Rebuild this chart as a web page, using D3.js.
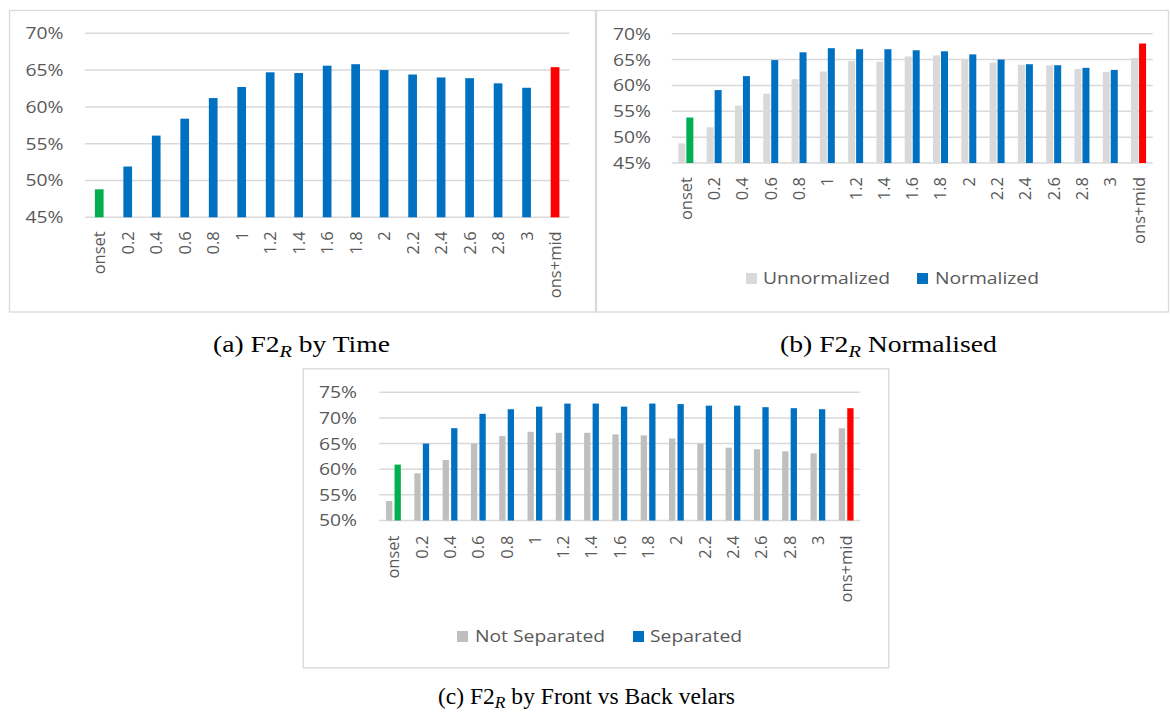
<!DOCTYPE html>
<html>
<head>
<meta charset="utf-8">
<script src="https://cdn.jsdelivr.net/npm/d3@7"></script>
<style>
  html, body { margin: 0; padding: 0; background: #ffffff; }
  svg { display: block; }
</style>
</head>
<body>
<svg id="chart" width="1170" height="717"></svg>
<script>
// ---------- DATA ----------
const categories = ["onset","0.2","0.4","0.6","0.8","1","1.2","1.4","1.6","1.8","2","2.2","2.4","2.6","2.8","3","ons+mid"];

// (a) F2R by Time
const timeValues = [48.8, 51.9, 56.1, 58.4, 61.2, 62.7, 64.7, 64.6, 65.6, 65.8, 65.0, 64.4, 64.0, 63.9, 63.2, 62.6, 65.4];

// (b) F2R Normalised
const unnormalizedValues = [48.8, 51.9, 56.1, 58.4, 61.2, 62.7, 64.7, 64.6, 65.6, 65.8, 65.0, 64.4, 64.0, 63.9, 63.2, 62.6, 65.3];
const normalizedValues   = [53.8, 59.1, 61.8, 64.9, 66.4, 67.2, 67.0, 67.0, 66.8, 66.6, 66.0, 65.0, 64.1, 63.9, 63.4, 63.0, 68.1];

// (c) F2R by Front vs Back velars
const notSeparatedValues = [53.8, 59.2, 61.8, 65.0, 66.5, 67.3, 67.1, 67.1, 66.8, 66.6, 66.0, 65.0, 64.2, 63.9, 63.5, 63.1, 68.0];
const separatedValues    = [60.9, 65.0, 68.0, 70.8, 71.7, 72.2, 72.8, 72.8, 72.2, 72.8, 72.7, 72.4, 72.4, 72.1, 71.9, 71.7, 71.9];

const yTicksA = [45, 50, 55, 60, 65, 70];
const yTicksB = [45, 50, 55, 60, 65, 70];
const yTicksC = [50, 55, 60, 65, 70, 75];

const legendB = ["Unnormalized", "Normalized"];
const legendC = ["Not Separated", "Separated"];

const captions = [
  { pre: "(a) F2", sub: "R", post: " by Time" },
  { pre: "(b) F2", sub: "R", post: " Normalised" },
  { pre: "(c) F2", sub: "R", post: " by Front vs Back velars" }
];

// ---------- STYLE ----------
const BLUE = "#0070C0", GREEN = "#00B050", RED = "#FF0000";
const GRAY_B = "#D9D9D9", GRAY_C = "#BFBFBF";
const GRID = "#D9D9D9", BORDER = "#D9D9D9", TEXT = "#595959";
const FONT = "'Open Sans', 'DejaVu Sans', sans-serif";
const FS = 16.5;
const HSTRETCH = 1.17;

const svg = d3.select("#chart");

function stretchText(sel, sx) {
  sel.each(function() {
    const t = d3.select(this);
    const x = +t.attr("x"), y = +t.attr("y");
    t.attr("x", 0).attr("y", 0)
     .attr("transform", `translate(${x},${y}) scale(${sx},1)`);
  });
}

function drawPanel(cfg) {
  const g = svg.append("g");
  // box
  g.append("rect")
    .attr("x", cfg.box[0] + 0.5).attr("y", cfg.box[1] + 0.5)
    .attr("width", cfg.box[2] - cfg.box[0]).attr("height", cfg.box[3] - cfg.box[1])
    .attr("fill", "#fff").attr("stroke", BORDER).attr("stroke-width", 1.3);

  const x = d3.scaleBand().domain(categories).range([cfg.x0, cfg.x1]).paddingInner(0).paddingOuter(0);
  const y = d3.scaleLinear().domain([cfg.ticks[0], cfg.ticks[cfg.ticks.length - 1]]).range([cfg.yBottom, cfg.yTop]);

  // gridlines
  g.append("g").selectAll("line").data(cfg.ticks).join("line")
    .attr("x1", cfg.x0).attr("x2", cfg.x1)
    .attr("y1", d => y(d)).attr("y2", d => y(d))
    .attr("stroke", GRID).attr("stroke-width", 1.5);

  // y labels
  const yl = g.append("g").selectAll("text").data(cfg.ticks).join("text")
    .attr("x", cfg.yLabelX).attr("y", d => y(d))
    .attr("text-anchor", "end").attr("dy", "0.36em")
    .attr("font-family", FONT).attr("font-size", FS).attr("fill", TEXT)
    .text(d => d + "%");
  stretchText(yl, HSTRETCH);

  // bars
  const nS = cfg.series.length;
  const groupW = cfg.barW * nS + cfg.barGap * (nS - 1);
  const xs = d3.scaleBand().domain(d3.range(nS)).range([-groupW / 2, groupW / 2]).paddingInner(nS > 1 ? cfg.barGap / (cfg.barW + cfg.barGap) : 0).paddingOuter(0);
  cfg.series.forEach((s, si) => {
    g.append("g").selectAll("rect").data(s.values).join("rect")
      .attr("x", (d, i) => x(categories[i]) + x.bandwidth() / 2 + xs(si))
      .attr("width", xs.bandwidth())
      .attr("y", d => y(d))
      .attr("height", d => y(cfg.ticks[0]) - y(d))
      .attr("fill", (d, i) => s.colorFn(i));
  });

  // x labels rotated
  g.append("g").selectAll("text").data(categories).join("text")
    .attr("transform", d => `translate(${x(d) + x.bandwidth() / 2},${cfg.yBottom + cfg.xLabelOff}) rotate(-90)`)
    .attr("text-anchor", "end").attr("dy", "0.36em")
    .attr("font-family", FONT).attr("font-size", FS).attr("fill", TEXT)
    .text(d => d);

  // legend
  if (cfg.legend) {
    cfg.legend.items.forEach((it, k) => {
      g.append("rect")
        .attr("x", it.sx).attr("y", cfg.legend.y - 5.5)
        .attr("width", 11).attr("height", 11).attr("fill", it.color);
      const t = g.append("text")
        .attr("x", it.tx).attr("y", cfg.legend.y)
        .attr("dy", "0.36em")
        .attr("font-family", FONT).attr("font-size", FS).attr("fill", TEXT)
        .text(it.label);
      stretchText(t, HSTRETCH);
    });
  }
}

const endColor = (base) => (i) => i === 0 ? GREEN : (i === categories.length - 1 ? RED : base);
const plain = (c) => () => c;

// Panel (a)
drawPanel({
  box: [9, 10, 595, 311.5],
  x0: 85, x1: 569.3, yTop: 33.3, yBottom: 217.3,
  ticks: yTicksA, yLabelX: 63.5, xLabelOff: 14,
  barW: 8.7, barGap: 0,
  series: [{ values: timeValues, colorFn: endColor(BLUE) }]
});

// Panel (b)
drawPanel({
  box: [596, 10, 1168, 311.5],
  x0: 671.7, x1: 1152.7, yTop: 33.7, yBottom: 163,
  ticks: yTicksB, yLabelX: 651, xLabelOff: 14,
  barW: 7, barGap: 1,
  series: [
    { values: unnormalizedValues, colorFn: plain(GRAY_B) },
    { values: normalizedValues, colorFn: endColor(BLUE) }
  ],
  legend: { y: 278.5, items: [
    { label: legendB[0], color: GRAY_B, sx: 746, tx: 763 },
    { label: legendB[1], color: BLUE, sx: 917, tx: 935 }
  ]}
});

// Panel (c)
drawPanel({
  box: [302.7, 368.3, 888.3, 667.3],
  x0: 379.3, x1: 860.3, yTop: 392.3, yBottom: 520.5,
  ticks: yTicksC, yLabelX: 357, xLabelOff: 15,
  barW: 6.3, barGap: 2.2,
  series: [
    { values: notSeparatedValues, colorFn: plain(GRAY_C) },
    { values: separatedValues, colorFn: endColor(BLUE) }
  ],
  legend: { y: 636.5, items: [
    { label: legendC[0], color: GRAY_C, sx: 457, tx: 475 },
    { label: legendC[1], color: BLUE, sx: 633, tx: 650 }
  ]}
});

// Captions
const capPos = [
  { x: 213, y: 352, w: 177 },
  { x: 780, y: 352, w: 217 },
  { x: 438, y: 703.5, w: 297 }
];
captions.forEach((c, k) => {
  const t = svg.append("text")
    .attr("x", 0).attr("y", 0)
    .attr("font-family", "'Liberation Serif', 'DejaVu Serif', serif")
    .attr("font-size", 23).attr("fill", "#000");
  t.append("tspan").text(c.pre);
  t.append("tspan").attr("font-style", "italic").attr("font-size", 17).attr("dy", 4.5).text(c.sub);
  t.append("tspan").attr("dy", -4.5).text(c.post);
  const w = t.node().getComputedTextLength();
  const sx = capPos[k].w / w;
  t.attr("transform", `translate(${capPos[k].x},${capPos[k].y}) scale(${sx},1)`);
});
</script>
</body>
</html>
